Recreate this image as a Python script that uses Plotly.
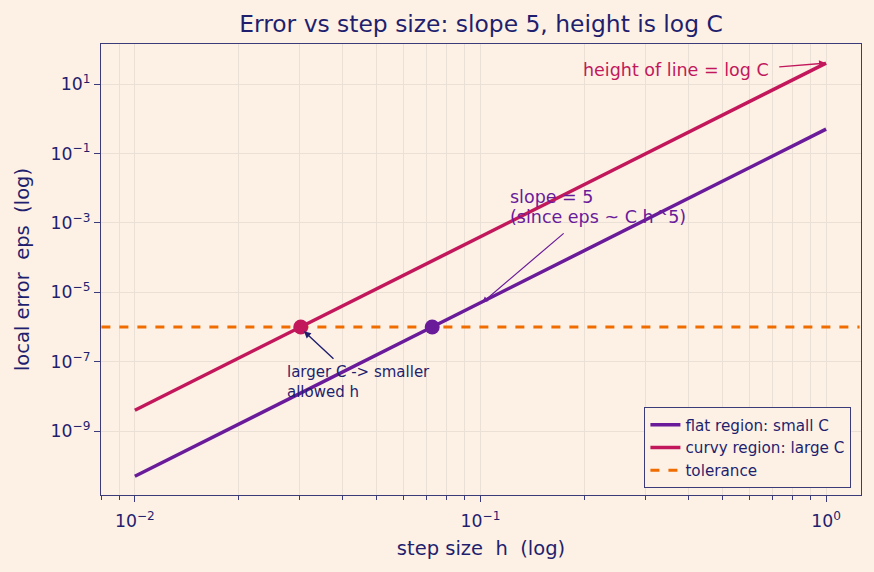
import plotly.graph_objects as go

# data
h_ends = [0.01, 1.0]
eps_small_C = [5e-11, 0.5]
eps_large_C = [4e-9, 40.0]
tol = 1e-6
tol_h = [0.008, 1.25]
h_cross_small = [0.0725]
h_cross_large = [0.0302]
cross_eps = [1e-6]
y_tickvals = [1e1, 1e-1, 1e-3, 1e-5, 1e-7, 1e-9]
y_ticktext = ["10<sup>1</sup>", "10<sup>\u22121</sup>", "10<sup>\u22123</sup>",
              "10<sup>\u22125</sup>", "10<sup>\u22127</sup>", "10<sup>\u22129</sup>"]
x_tickvals = [0.01, 0.1, 1.0]
x_ticktext = ["10<sup>\u22122</sup>", "10<sup>\u22121</sup>", "10<sup>0</sup>"]

PURPLE = "#6a1b9a"
CRIMSON = "#c2185b"
ORANGE = "#ef6c00"
NAVY = "#1f1f6e"
FRAME = "#3b3b7a"
BG = "#fdf1e6"
GRID = "#ebe0d5"

fig = go.Figure()
fig.add_trace(go.Scatter(x=h_ends, y=eps_small_C, mode="lines", name="flat region: small C",
                         line=dict(color=PURPLE, width=3.5)))
fig.add_trace(go.Scatter(x=h_ends, y=eps_large_C, mode="lines", name="curvy region: large C",
                         line=dict(color=CRIMSON, width=3.5)))
fig.add_trace(go.Scatter(x=tol_h, y=[tol, tol], mode="lines", name="tolerance",
                         line=dict(color=ORANGE, width=3, dash="dash")))
fig.add_trace(go.Scatter(x=h_cross_small, y=cross_eps, mode="markers", showlegend=False,
                         marker=dict(color=PURPLE, size=15)))
fig.add_trace(go.Scatter(x=h_cross_large, y=cross_eps, mode="markers", showlegend=False,
                         marker=dict(color=CRIMSON, size=15)))

font = "DejaVu Sans"
ann = []
# height of line
ann.append(dict(x=-0.159, y=1.40, xref="x", yref="y", text="height of line = log C",
                showarrow=False, xanchor="right", yanchor="middle",
                font=dict(color=CRIMSON, size=17.5, family=font)))
ann.append(dict(x=0.0, y=1.602, ax=-0.14, ay=1.49, xref="x", yref="y", axref="x", ayref="y",
                text="", showarrow=True, arrowhead=2, arrowsize=1, arrowwidth=1.4,
                arrowcolor=CRIMSON))
# slope annotation
ann.append(dict(x=-0.920, y=-2.26, xref="x", yref="y", text="slope = 5",
                showarrow=False, xanchor="left", yanchor="middle",
                font=dict(color=PURPLE, size=17.5, family=font)))
ann.append(dict(x=-0.920, y=-2.835, xref="x", yref="y", text="(since eps ~ C h^5)",
                showarrow=False, xanchor="left", yanchor="middle",
                font=dict(color=PURPLE, size=17.5, family=font)))
ann.append(dict(x=-0.995, y=-5.30, ax=-0.755, ay=-3.265, xref="x", yref="y", axref="x", ayref="y",
                text="", showarrow=True, arrowhead=2, arrowsize=1, arrowwidth=1.2,
                arrowcolor=PURPLE))
# larger C annotation
ann.append(dict(x=-1.566, y=-7.59, xref="x", yref="y", text="larger C -> smaller<br>allowed h",
                align="left", showarrow=False, xanchor="left", yanchor="middle",
                font=dict(color=NAVY, size=15, family=font)))
ann.append(dict(x=-1.515, y=-6.08, ax=-1.421, ay=-6.954, xref="x", yref="y", axref="x", ayref="y",
                text="", showarrow=True, arrowhead=2, arrowsize=1, arrowwidth=1.4,
                arrowcolor=NAVY, standoff=2))

fig.update_layout(
    width=874, height=572,
    margin=dict(l=101, r=13, t=44, b=77),
    paper_bgcolor=BG, plot_bgcolor=BG,
    font=dict(family=font, color=NAVY, size=17.3),
    title=dict(text="Error vs step size: slope 5, height is log C", x=0.5, xref="paper",
               xanchor="center", y=1 - 24 / 572, yanchor="middle",
               font=dict(size=23.4, color=NAVY)),
    annotations=ann,
    showlegend=True,
    legend=dict(x=0.987, y=0.0155, xanchor="right", yanchor="bottom",
                bgcolor=BG, bordercolor=FRAME, borderwidth=1.3,
                font=dict(size=15.2, color=NAVY), tracegroupgap=0, itemwidth=30),
)
fig.update_xaxes(type="log", range=[-2.098, 0.101], tickvals=x_tickvals, ticktext=x_ticktext,
                 showline=True, linecolor=FRAME, linewidth=1.3, mirror=True,
                 ticks="outside", ticklen=6, tickcolor=FRAME, tickfont=dict(size=17.3, color=NAVY),
                 ticklabelstandoff=4,
                 showgrid=True, gridcolor=GRID, gridwidth=1, zeroline=False,
                 minor=dict(ticks="outside", ticklen=3.5, tickcolor=FRAME, showgrid=True,
                            gridcolor=GRID, dtick="D1"),
                 title=dict(text="step size  h  (log)", font=dict(size=19.5, color=NAVY), standoff=11))
fig.update_yaxes(type="log", range=[-10.84, 2.153], tickvals=y_tickvals, ticktext=y_ticktext,
                 showline=True, linecolor=FRAME, linewidth=1.3, mirror=True,
                 ticks="outside", ticklen=6, tickcolor=FRAME, tickfont=dict(size=17.3, color=NAVY),
                 showgrid=True, gridcolor=GRID, gridwidth=1, zeroline=False,
                 title=dict(text="local error  eps  (log)", font=dict(size=19.5, color=NAVY), standoff=15))

fig.write_html("out.html")
